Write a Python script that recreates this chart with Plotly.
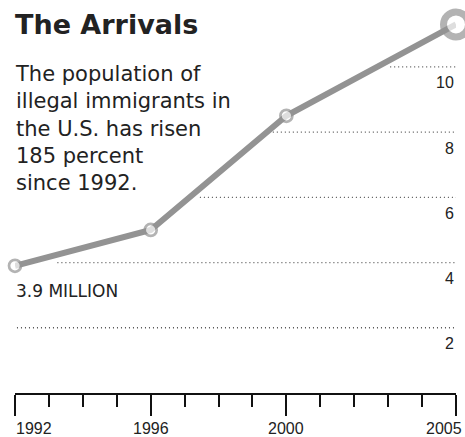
import plotly.graph_objects as go

# ---- data ----
years = [1992, 1996, 2000, 2005]
population_millions = [3.9, 5.0, 8.5, 11.3]
y_tick_values = [2, 4, 6, 8, 10]
y_tick_labels = ["2", "4", "6", "8", "10"]
x_tick_values = [1992, 1996, 2000, 2005]
x_tick_labels = ["1992", "1996", "2000", "2005"]
title_text = "The Arrivals"
subtitle_lines = ["The population of", "illegal immigrants in",
                  "the U.S. has risen", "185 percent", "since 1992."]
start_label = "3.9 MILLION"

# ---- layout helpers ----
W, H = 465, 437
ML, MR, MT, MB = 15, 9, 0, 44
PW, PH = W - ML - MR, H - MT - MB
YMAX = 12.05
def px(x):
    return (x - ML) / PW
def py(y):
    return (H - MB - y) / PH

gray = "#939393"
ink = "#222222"
sans = "DejaVu Sans"
tickfont = "Liberation Sans, Arial, sans-serif"

# where each dotted gridline begins (so it does not collide with text/line)
grid_start_year = {2: 1991.94, 4: 1993.25, 6: 1997.45, 8: 1999.6, 10: 2003.06}

fig = go.Figure()
fig.add_trace(go.Scatter(
    x=years, y=population_millions, mode="lines+markers",
    line=dict(color=gray, width=6),
    marker=dict(size=[12, 12, 12, 25], color="white",
                line=dict(color=gray, width=[2.7, 2.7, 2.7, 7])),
    cliponaxis=False, hoverinfo="skip", showlegend=False,
))

shapes = []
for v in y_tick_values:
    shapes.append(dict(type="line", xref="x", yref="y",
                       x0=grid_start_year[v], x1=2005.03, y0=v, y1=v,
                       line=dict(color="#555555", width=1.3, dash="1px,3px"),
                       layer="below"))

ann = []
ann.append(dict(text="<b>" + title_text + "</b>", xref="paper", yref="paper",
                x=px(13), y=py(25), xanchor="left", yanchor="middle",
                showarrow=False, font=dict(family=sans, size=27, color=ink)))
ann.append(dict(text="<br>".join(subtitle_lines), xref="paper", yref="paper",
                x=px(13), y=py(60), xanchor="left", yanchor="top", align="left",
                showarrow=False, font=dict(family=sans, size=21, color=ink)))
ann.append(dict(text=start_label, xref="paper", yref="paper",
                x=px(14), y=py(291), xanchor="left", yanchor="middle",
                showarrow=False, font=dict(family=sans, size=17, color=ink)))
for v, t in zip(y_tick_values, y_tick_labels):
    ann.append(dict(text=t, xref="paper", yref="y", x=px(456), y=v,
                    yshift=-16, xanchor="right", yanchor="middle",
                    showarrow=False, font=dict(family=tickfont, size=16, color=ink)))
anchors = ["left", "center", "center", "right"]
for i, (v, t) in enumerate(zip(x_tick_values, x_tick_labels)):
    xa = anchors[i]
    ann.append(dict(text=t, xref="x", yref="paper", x=v, y=py(428),
                    xanchor=xa, yanchor="middle", xshift=(-1 if i == 0 else (8 if i == 3 else 0)),
                    showarrow=False, font=dict(family=tickfont, size=16, color=ink)))

fig.update_layout(
    width=W, height=H, autosize=False,
    margin=dict(l=ML, r=MR, t=MT, b=MB, pad=0),
    plot_bgcolor="white", paper_bgcolor="white",
    shapes=shapes, annotations=ann,
    xaxis=dict(range=[1992, 2005], showgrid=False, zeroline=False,
               showline=True, linecolor="#111111", linewidth=1.6,
               tickmode="array", tickvals=x_tick_values, showticklabels=False,
               ticks="outside", ticklen=21, tickwidth=1.6, tickcolor="#111111",
               minor=dict(ticks="outside", ticklen=12, tickwidth=1.6,
                          tickcolor="#111111", tick0=1992, dtick=1, showgrid=False),
               fixedrange=True),
    yaxis=dict(range=[0, YMAX], showgrid=False, zeroline=False, showline=False,
               showticklabels=False, ticks="", fixedrange=True),
)

fig.write_html("out.html", config={"displayModeBar": False},
               post_script="document.body.style.margin='0';document.body.style.overflow='hidden';")
